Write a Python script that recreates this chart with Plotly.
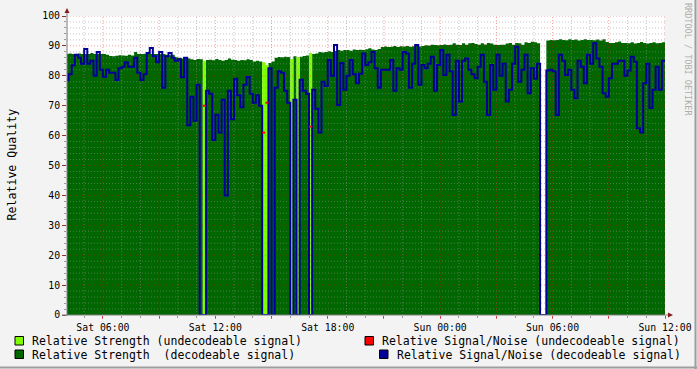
import pandas as pd
import plotly.graph_objects as go

# ---------------- data ----------------
bin_start = pd.Timestamp("2024-03-02 04:00")
bin_minutes = 10
range_start = pd.Timestamp("2024-03-02 04:05")
range_end = pd.Timestamp("2024-03-03 12:00")

# relative strength (top of the green area) per 10-minute bin
strength = [
    87.3, 87.5, 87.3, 87.3, 87.5, 87.3, 87.3, 87.3, 87.6, 87.3,
    87.3, 87.3, 87.3, 87.0, 86.6, 86.5, 86.7, 86.9, 86.8, 86.7,
    87.0, 86.8, 88.0, 87.3, 87.3, 87.4, 87.3, 87.3, 87.3, 87.3,
    87.2, 87.3, 87.0, 86.9, 87.0, 86.2, 86.0, 85.8, 86.0, 85.8,
    85.5, 85.3, 85.6, 85.5, 85.0, 85.3, 85.4, 85.2, 85.6, 85.3,
    85.0, 85.3, 85.8, 85.4, 85.3, 85.0, 85.3, 85.2, 85.5, 85.3,
    84.8, 85.0, 84.8, 84.5, 83.6, 84.3, 84.8, 86.0, 86.3, 86.2,
    86.4, 86.3, 85.6, 86.5, 86.3, 86.4, 86.6, 86.8, 87.6, 87.3,
    87.5, 88.0, 87.8, 88.0, 88.2, 88.0, 88.3, 88.6, 88.4, 88.6,
    88.6, 88.4, 88.8, 88.6, 88.7, 88.6, 88.9, 89.2, 88.8, 88.6,
    89.0, 89.6, 89.8, 89.6, 89.7, 90.0, 89.6, 89.9, 89.8, 90.0,
    89.7, 89.9, 90.1, 89.8, 90.0, 90.2, 90.1, 90.4, 90.3, 90.2,
    90.3, 90.5, 90.3, 90.4, 90.9, 90.4, 90.3, 90.9, 90.4, 90.9,
    91.0, 90.6, 90.4, 90.9, 90.5, 91.0, 90.8, 90.4, 90.3, 90.4,
    90.4, 90.8, 91.0, 90.4, 91.0, 90.9, 90.4, 91.2, 91.0, 91.4,
    91.2, 90.9, 0.0, 0.0, 91.8, 92.0, 91.9, 92.0, 92.2, 92.0,
    91.9, 92.2, 92.0, 92.1, 91.8, 92.0, 92.2, 92.0, 92.0, 91.9,
    92.1, 91.8, 92.2, 91.3, 91.0, 91.0, 91.2, 91.5, 91.0, 91.0,
    90.9, 91.2, 90.8, 91.0, 91.3, 91.0, 90.8, 91.0, 91.2, 90.9,
    91.0, 91.2,
]

# relative signal/noise per bin
snr = [
    78.5, 80.5, 83.5, 87.0, 86.0, 84.0, 89.0, 84.0, 85.0, 80.0,
    88.0, 82.0, 79.7, 82.0, 81.0, 81.0, 78.6, 82.5, 83.0, 84.5,
    83.0, 83.0, 86.0, 81.0, 78.6, 80.5, 87.6, 89.3, 86.5, 84.5,
    88.0, 76.0, 86.5, 87.6, 86.0, 85.0, 85.5, 79.5, 86.0, 63.5,
    73.0, 65.0, 77.0, 0.0, 70.0, 75.0, 74.0, 58.5, 67.0, 61.0,
    72.0, 40.0, 75.0, 65.5, 79.0, 73.5, 69.5, 77.0, 79.6, 74.0,
    71.0, 73.5, 70.0, 61.0, 71.0, 82.5, 0.0, 76.0, 81.5, 81.0,
    75.0, 71.0, None, 72.0, None, 78.7, 75.0, 74.0, 63.0, 75.3,
    69.0, 61.0, 78.0, 76.6, 85.3, 80.0, 90.3, 70.2, 84.3, 75.3,
    80.0, 85.3, 80.5, 77.5, 80.7, 87.5, 83.6, 84.5, 88.0, 82.5,
    76.0, 82.0, 82.0, 82.0, 85.3, 75.0, 82.5, 82.0, 88.0, 87.5,
    76.0, 84.0, 90.3, 77.0, 83.6, 82.5, 84.0, 86.4, 75.0, 83.6,
    88.6, 80.3, 87.0, 81.5, 66.9, 85.0, 71.4, 85.0, 85.8, 82.0,
    80.5, 79.2, 83.0, 87.0, 78.0, 66.9, 83.6, 75.3, 87.0, 80.0,
    84.0, 71.4, 75.3, 84.0, 89.7, 78.0, 82.0, 87.0, 74.2, 82.5,
    79.0, 84.0, 0.0, 0.0, 81.8, 82.0, 81.5, 66.9, 87.0, 85.0,
    80.3, 82.0, 75.3, 72.5, 85.0, 83.0, 77.5, 87.0, 84.0, 90.9,
    85.8, 83.0, 74.2, 73.0, 79.2, 84.0, 84.0, 85.0, 85.0, 80.0,
    81.8, 86.4, 84.7, 62.5, 61.0, 77.5, 84.0, 69.2, 75.3, 83.0,
    75.3, 85.0,
]

# bins in which the signal could not be decoded
undecodeable = [44, 63, 64, 72, 74, 78]

x_tick_times = ["2024-03-02 06:00", "2024-03-02 12:00", "2024-03-02 18:00",
                "2024-03-03 00:00", "2024-03-03 06:00", "2024-03-03 12:00"]
x_tick_labels = ["Sat 06:00", "Sat 12:00", "Sat 18:00",
                 "Sun 00:00", "Sun 06:00", "Sun 12:00"]
y_tick_values = [0, 10, 20, 30, 40, 50, 60, 70, 80, 90, 100]

legend_labels = [
    "Relative Strength (undecodeable signal)",
    "Relative Signal/Noise (undecodeable signal)",
    "Relative Strength\u00a0\u00a0(decodeable signal)",
    "Relative Signal/Noise (decodeable signal)",
]

# ---------------- styling ----------------
C_DEC = "#006600"
C_UND = "#80FF00"
C_SNR = "#000099"
C_RED = "#FF0000"
C_MINOR = "rgba(143,143,143,0.55)"
C_MAJOR = "rgba(240,0,0,0.40)"
C_ARROW = "#8B1A1A"
MONO = "DejaVu Sans Mono"

W, H = 697, 369
ML, MR, MT, MB = 67, 32, 16, 54
PW, PH = W - ML - MR, H - MT - MB


def pxx(x):
    return (x - ML) / PW


def pxy(y):
    return (H - MB - y) / PH


# ---------------- derived series ----------------
n = len(strength)
times = [bin_start + pd.Timedelta(minutes=bin_minutes * k) for k in range(n + 1)]
und = set(undecodeable)

dec_strength = [0 if k in und else strength[k] for k in range(n)]
und_strength = [strength[k] if k in und else 0 for k in range(n)]
dec_snr = [0 if k in und else snr[k] for k in range(n)]
dec_strength.append(dec_strength[-1])
und_strength.append(und_strength[-1])
dec_snr.append(dec_snr[-1])

red_x, red_y = [], []
for k in undecodeable:
    if snr[k] is not None:
        red_x += [times[k], times[k + 1], None]
        red_y += [snr[k], snr[k], None]

fig = go.Figure()

fig.add_trace(go.Scatter(x=times, y=dec_strength, mode="lines", line=dict(width=0, shape="hv"),
                         fill="tozeroy", fillcolor=C_DEC, hoverinfo="skip", showlegend=False))
fig.add_trace(go.Scatter(x=times, y=und_strength, mode="lines", line=dict(width=0, shape="hv"),
                         fill="tozeroy", fillcolor=C_UND, hoverinfo="skip", showlegend=False))

# grid drawn over the areas (as in rrdtool)
hours = pd.date_range("2024-03-02 05:00", "2024-03-03 12:00", freq="1h")
major_hours = [h for h in hours if h.hour % 3 == 0]
minor_hours = [h for h in hours if h.hour % 3 != 0]
minor_vals = [v for v in range(2, 100, 2) if v % 10]
major_vals = [v for v in range(10, 101, 10)]


def hlines(vals):
    xs, ys = [], []
    for v in vals:
        xs += [range_start, range_end, None]
        ys += [v, v, None]
    return xs, ys


def vlines(ts):
    xs, ys = [], []
    for t in ts:
        xs += [t, t, None]
        ys += [0, 100, None]
    return xs, ys


for (xs, ys), col in [(hlines(minor_vals), C_MINOR), (vlines(minor_hours), C_MINOR),
                      (hlines(major_vals), C_MAJOR), (vlines(major_hours), C_MAJOR)]:
    fig.add_trace(go.Scatter(x=xs, y=ys, mode="lines", line=dict(color=col, width=1, dash="1px,2px"),
                             hoverinfo="skip", showlegend=False, connectgaps=False))

fig.add_trace(go.Scatter(x=times, y=dec_snr, mode="lines", line=dict(color=C_SNR, width=2, shape="hv"),
                         hoverinfo="skip", showlegend=False))
fig.add_trace(go.Scatter(x=red_x, y=red_y, mode="lines", line=dict(color=C_RED, width=2),
                         hoverinfo="skip", showlegend=False))

# ---------------- decorations ----------------
shapes = []
# axis extensions and arrows
shapes.append(dict(type="line", xref="paper", yref="paper", x0=pxx(67), x1=pxx(67), y0=pxy(316), y1=pxy(12),
                   line=dict(color="#808080", width=1)))
shapes.append(dict(type="line", xref="paper", yref="paper", x0=pxx(62), x1=pxx(669), y0=pxy(315), y1=pxy(315),
                   line=dict(color="#808080", width=1)))
shapes.append(dict(type="path", xref="paper", yref="paper",
                   path=f"M {pxx(64.5)} {pxy(13)} L {pxx(69.5)} {pxy(13)} L {pxx(67)} {pxy(8)} Z",
                   fillcolor=C_ARROW, line=dict(width=0)))
shapes.append(dict(type="path", xref="paper", yref="paper",
                   path=f"M {pxx(668)} {pxy(312.5)} L {pxx(668)} {pxy(317.5)} L {pxx(673)} {pxy(315)} Z",
                   fillcolor=C_ARROW, line=dict(width=0)))
# frame shading
shapes.append(dict(type="line", xref="paper", yref="paper", x0=pxx(0), x1=pxx(697), y0=pxy(367.5), y1=pxy(367.5),
                   line=dict(color="#9E9E9E", width=2)))
shapes.append(dict(type="line", xref="paper", yref="paper", x0=pxx(695.5), x1=pxx(695.5), y0=pxy(0), y1=pxy(369),
                   line=dict(color="#9E9E9E", width=2)))

# legend boxes
legend_boxes = [(15, 336.5, C_UND), (365, 336.5, C_RED), (15, 350, C_DEC), (379.5, 350, C_SNR)]
legend_text_pos = [(30, 341), (380, 341), (30, 354.5), (394.5, 354.5)]
for (bx, by, col) in legend_boxes:
    shapes.append(dict(type="rect", xref="paper", yref="paper", x0=pxx(bx), x1=pxx(bx + 8.5),
                       y0=pxy(by + 8.5), y1=pxy(by), fillcolor=col, line=dict(color="black", width=1)))

annotations = []
for label, (tx, ty) in zip(legend_labels, legend_text_pos):
    annotations.append(dict(text=label, xref="paper", yref="paper", x=pxx(tx), y=pxy(ty),
                            xanchor="left", yanchor="middle", showarrow=False,
                            font=dict(family=MONO, size=11.5, color="black")))
annotations.append(dict(text="Relative Quality", xref="paper", yref="paper", x=pxx(11.5), y=pxy(165),
                        textangle=-90, xanchor="center", yanchor="middle", showarrow=False,
                        font=dict(family=MONO, size=11.6, color="black")))
annotations.append(dict(text="RRDTOOL / TOBI OETIKER", xref="paper", yref="paper", x=pxx(688), y=pxy(59),
                        textangle=90, xanchor="center", yanchor="middle", showarrow=False,
                        font=dict(family=MONO, size=8.5, color="#ADADAD")))

fig.update_layout(
    template="none",
    width=W, height=H,
    margin=dict(l=ML, r=MR, t=MT, b=MB, pad=0),
    paper_bgcolor="#F3F3F3",
    plot_bgcolor="#FFFFFF",
    showlegend=False,
    shapes=shapes,
    annotations=annotations,
    xaxis=dict(
        type="date", range=[range_start, range_end], automargin=False,
        showgrid=False, zeroline=False, showline=False,
        tickmode="array",
        tickvals=major_hours,
        ticktext=[x_tick_labels[x_tick_times.index(str(h)[:16])] if str(h)[:16] in x_tick_times else ""
                  for h in major_hours],
        ticks="outside", ticklen=3, tickcolor="rgba(240,0,0,0.6)", tickwidth=1,
        minor=dict(ticks="outside", ticklen=2, tickcolor="#999999", dtick=3600000,
                   tick0="2024-03-02 00:00", showgrid=False),
        tickfont=dict(family=MONO, size=9.8, color="black"),
    ),
    yaxis=dict(
        range=[0, 100], automargin=False,
        showgrid=False, zeroline=False, showline=False,
        tickmode="array", tickvals=y_tick_values, ticktext=[str(v) for v in y_tick_values],
        ticks="outside", ticklen=4, tickcolor="#8B3030", tickwidth=1,
        minor=dict(ticks="outside", ticklen=2, tickcolor="#999999", dtick=2, showgrid=False),
        tickfont=dict(family=MONO, size=9.8, color="black"),
    ),
)

fig.write_html("out.html")
